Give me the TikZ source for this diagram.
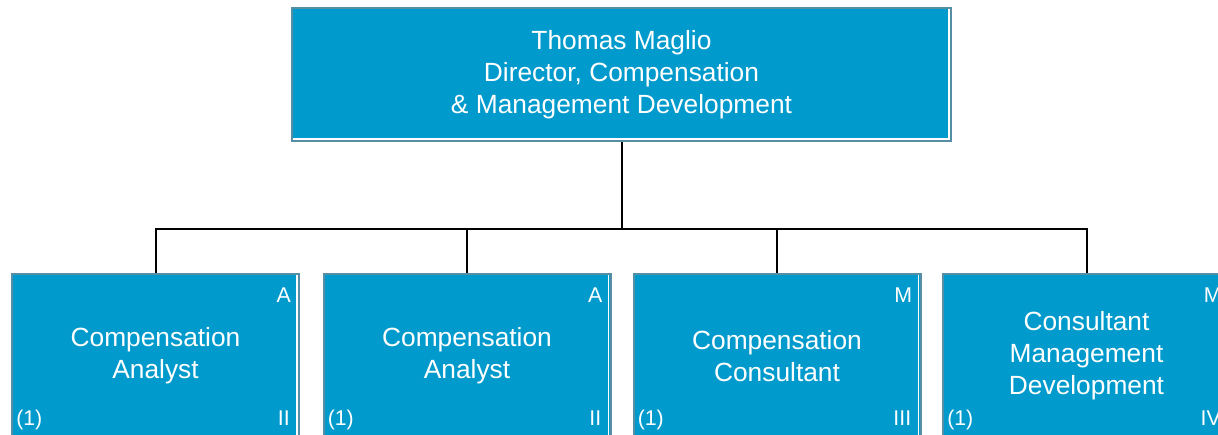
\documentclass[tikz,border=0pt]{standalone}
\usepackage{fontspec}
\setmainfont{Liberation Sans}
\definecolor{boxfill}{RGB}{0,154,204}
\definecolor{boxline}{RGB}{86,142,166}
\begin{document}
\begin{tikzpicture}[x=0.75pt,y=-0.75pt,
        post/.style={draw=boxline, fill=boxfill, line width=1.5pt, text=white,
            align=center, inner sep=0pt, font=\fontsize{19.75}{24}\selectfont,
            path picture={\draw[white,line width=1.1pt]
                ([xshift=-1.5pt]path picture bounding box.north east)
                -- ([shift={(-1.5pt,1.5pt)}]path picture bounding box.south east)
                -- ([yshift=1.5pt]path picture bounding box.south west);}},
        staff/.style={post, minimum width=215.25pt, minimum height=123pt},
        grade/.style={text=white, inner sep=0pt, font=\fontsize{16}{19}\selectfont},
        link/.style={line width=1.5pt}]
        \useasboundingbox (0,0) rectangle (1218,435);
        %% Director
        \node[post, minimum width=494.25pt, minimum height=99.75pt] (dir) at (621.5,74.5)
            {Thomas Maglio\\Director, Compensation\\\& Management Development};
        %% Staff
        \node[staff] (ca1) at (155.5,356) {Compensation\\Analyst};
        \node[staff] (ca2) at (467,356) {Compensation\\Analyst};
        \node[staff] (cc)  at (777,356) {Compensation\\Consultant};
        \node[staff] (cmd) at (1086.5,356) {Consultant\\Management\\Development};
        %% Grades and counts
        \foreach \b/\g/\l in {ca1/A/II, ca2/A/II, cc/M/III, cmd/M/IV} {
            \node[grade, anchor=north east] (\b-g) at ([shift={(-6.75pt,-11pt)}]\b.north east) {\g};
            \node[grade, anchor=base east] (\b-l) at ([shift={(-7.5pt,10.5pt)}]\b.south east) {\l};
            \node[grade, anchor=base west] (\b-n) at ([shift={(3.75pt,10.5pt)}]\b.south west) {(1)};
        }
        %% Lines
        \coordinate (bus) at ([yshift=-65.25pt]dir.south);
        \draw[link] (dir.south) -- (bus);
        \foreach \b in {ca1,ca2,cc,cmd}
            \draw[link] (\b.north) |- (bus);
    \end{tikzpicture}
\end{document}
